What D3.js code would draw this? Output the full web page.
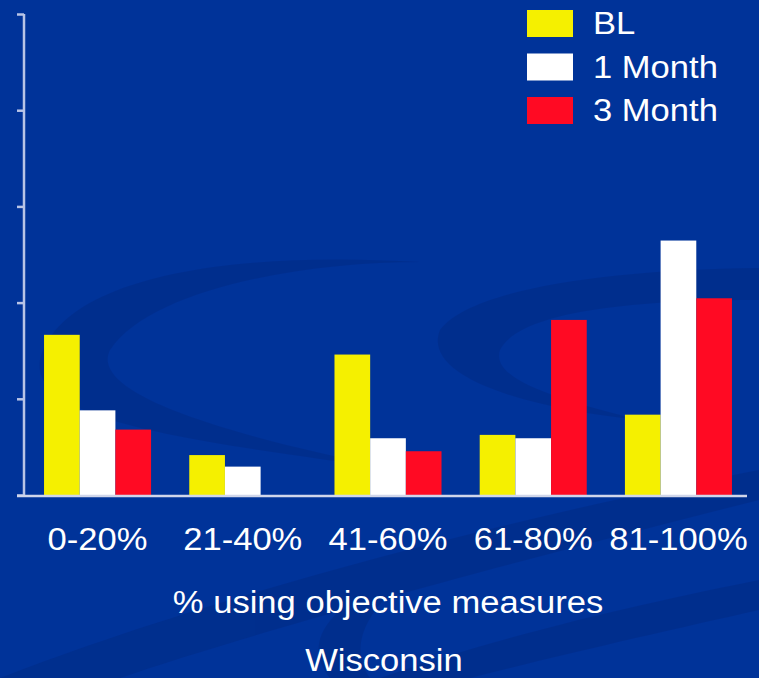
<!DOCTYPE html>
<html>
<head>
<meta charset="utf-8">
<script src="https://cdn.jsdelivr.net/npm/d3@7"></script>
<style>
html,body{margin:0;padding:0;background:#003399;}
svg{display:block;}
text{font-family:Arial,"Liberation Sans",sans-serif;fill:#fff;}
</style>
</head>
<body>
<svg id="chart" width="759" height="678"></svg>
<script>
const categories = ["0-20%", "21-40%", "41-60%", "61-80%", "81-100%"];
const seriesNames = ["BL", "1 Month", "3 Month"];
const blValues = [33.3, 8.3, 29.2, 12.5, 16.7];
const month1Values = [17.6, 5.9, 11.8, 11.8, 52.9];
const month3Values = [13.6, 0, 9.1, 36.4, 40.9];
const yTicks = [0, 20, 40, 60, 80, 100];
const xTitle = "% using objective measures";
const subTitle = "Wisconsin";
const colors = ["#f5f000", "#ffffff", "#ff0a23"];

const allValues = [blValues, month1Values, month3Values];
const W = 759, H = 678;
const SX = 1.115;
const svg = d3.select("#chart");

// background
svg.append("rect").attr("width", W).attr("height", H).attr("fill", "#003399");
const deco = svg.append("g").attr("fill", "#002b85").attr("opacity", 0.55);
deco.append("path").attr("d", "M40,360 C60,280 220,250 420,262 C300,262 150,290 110,350 C90,390 200,430 400,470 C180,440 30,420 40,360 Z");
deco.append("path").attr("d", "M440,330 C470,290 600,270 759,268 L759,300 C640,300 520,310 500,350 C490,380 560,400 640,420 C540,410 420,380 440,330 Z");
deco.append("path").attr("d", "M0,678 C200,600 500,520 759,470 L759,500 C520,560 260,630 120,678 Z");
deco.append("path").attr("d", "M380,678 C520,630 660,600 759,580 L759,610 C670,630 560,655 470,678 Z");
deco.append("path").attr("d", "M330,678 C300,640 330,600 420,570 C360,610 350,650 370,678 Z");

const x0 = d3.scaleBand().domain(categories).range([24, 752]).paddingInner(0.263).paddingOuter(0.138);
const x1 = d3.scaleBand().domain(seriesNames).range([0, x0.bandwidth()]).padding(0);
const y = d3.scaleLinear().domain([0, 100]).range([495, 14]);

// bars
const groups = svg.append("g").selectAll("g").data(categories).join("g")
  .attr("transform", d => `translate(${x0(d)},0)`);
groups.selectAll("rect")
  .data((c, i) => seriesNames.map((s, j) => ({s, j, v: allValues[j][i]})))
  .join("rect")
  .attr("x", d => x1(d.s))
  .attr("width", x1.bandwidth())
  .attr("y", d => y(d.v))
  .attr("height", d => y(0) - y(d.v))
  .attr("fill", d => colors[d.j]);

// y axis (no labels)
const yAxis = d3.axisLeft(y).tickValues(yTicks).tickSize(7).tickFormat("");
const yg = svg.append("g").attr("transform", "translate(24,0)").call(yAxis);
yg.selectAll("path,line").attr("stroke", "#b8c4e6").attr("stroke-width", 2.5);
yg.select(".domain").attr("d", `M0,${y(100)}V${y(0)}`);

// x axis line
svg.append("line").attr("x1", 17).attr("x2", 747).attr("y1", 496).attr("y2", 496)
  .attr("stroke", "#d0d6ea").attr("stroke-width", 2.5);

function label(sel, x, y, txt, anchor) {
  return sel.append("text")
    .attr("transform", `translate(${x},${y}) scale(${SX},1)`)
    .attr("text-anchor", anchor)
    .attr("font-size", 31)
    .text(txt);
}

// category labels
const cl = svg.append("g");
categories.forEach(c => label(cl, x0(c) + x0.bandwidth() / 2, 550, c, "middle"));

label(svg, 388, 613, xTitle, "middle");
label(svg, 384, 671, subTitle, "middle");

// legend
const leg = svg.append("g").selectAll("g").data(seriesNames).join("g")
  .attr("transform", (d, i) => `translate(527,${10 + i * 43.5})`);
leg.append("rect").attr("width", 46).attr("height", 27).attr("fill", (d, i) => colors[i]);
leg.each(function(d) { label(d3.select(this), 66, 24, d, "start"); });
</script>
</body>
</html>
